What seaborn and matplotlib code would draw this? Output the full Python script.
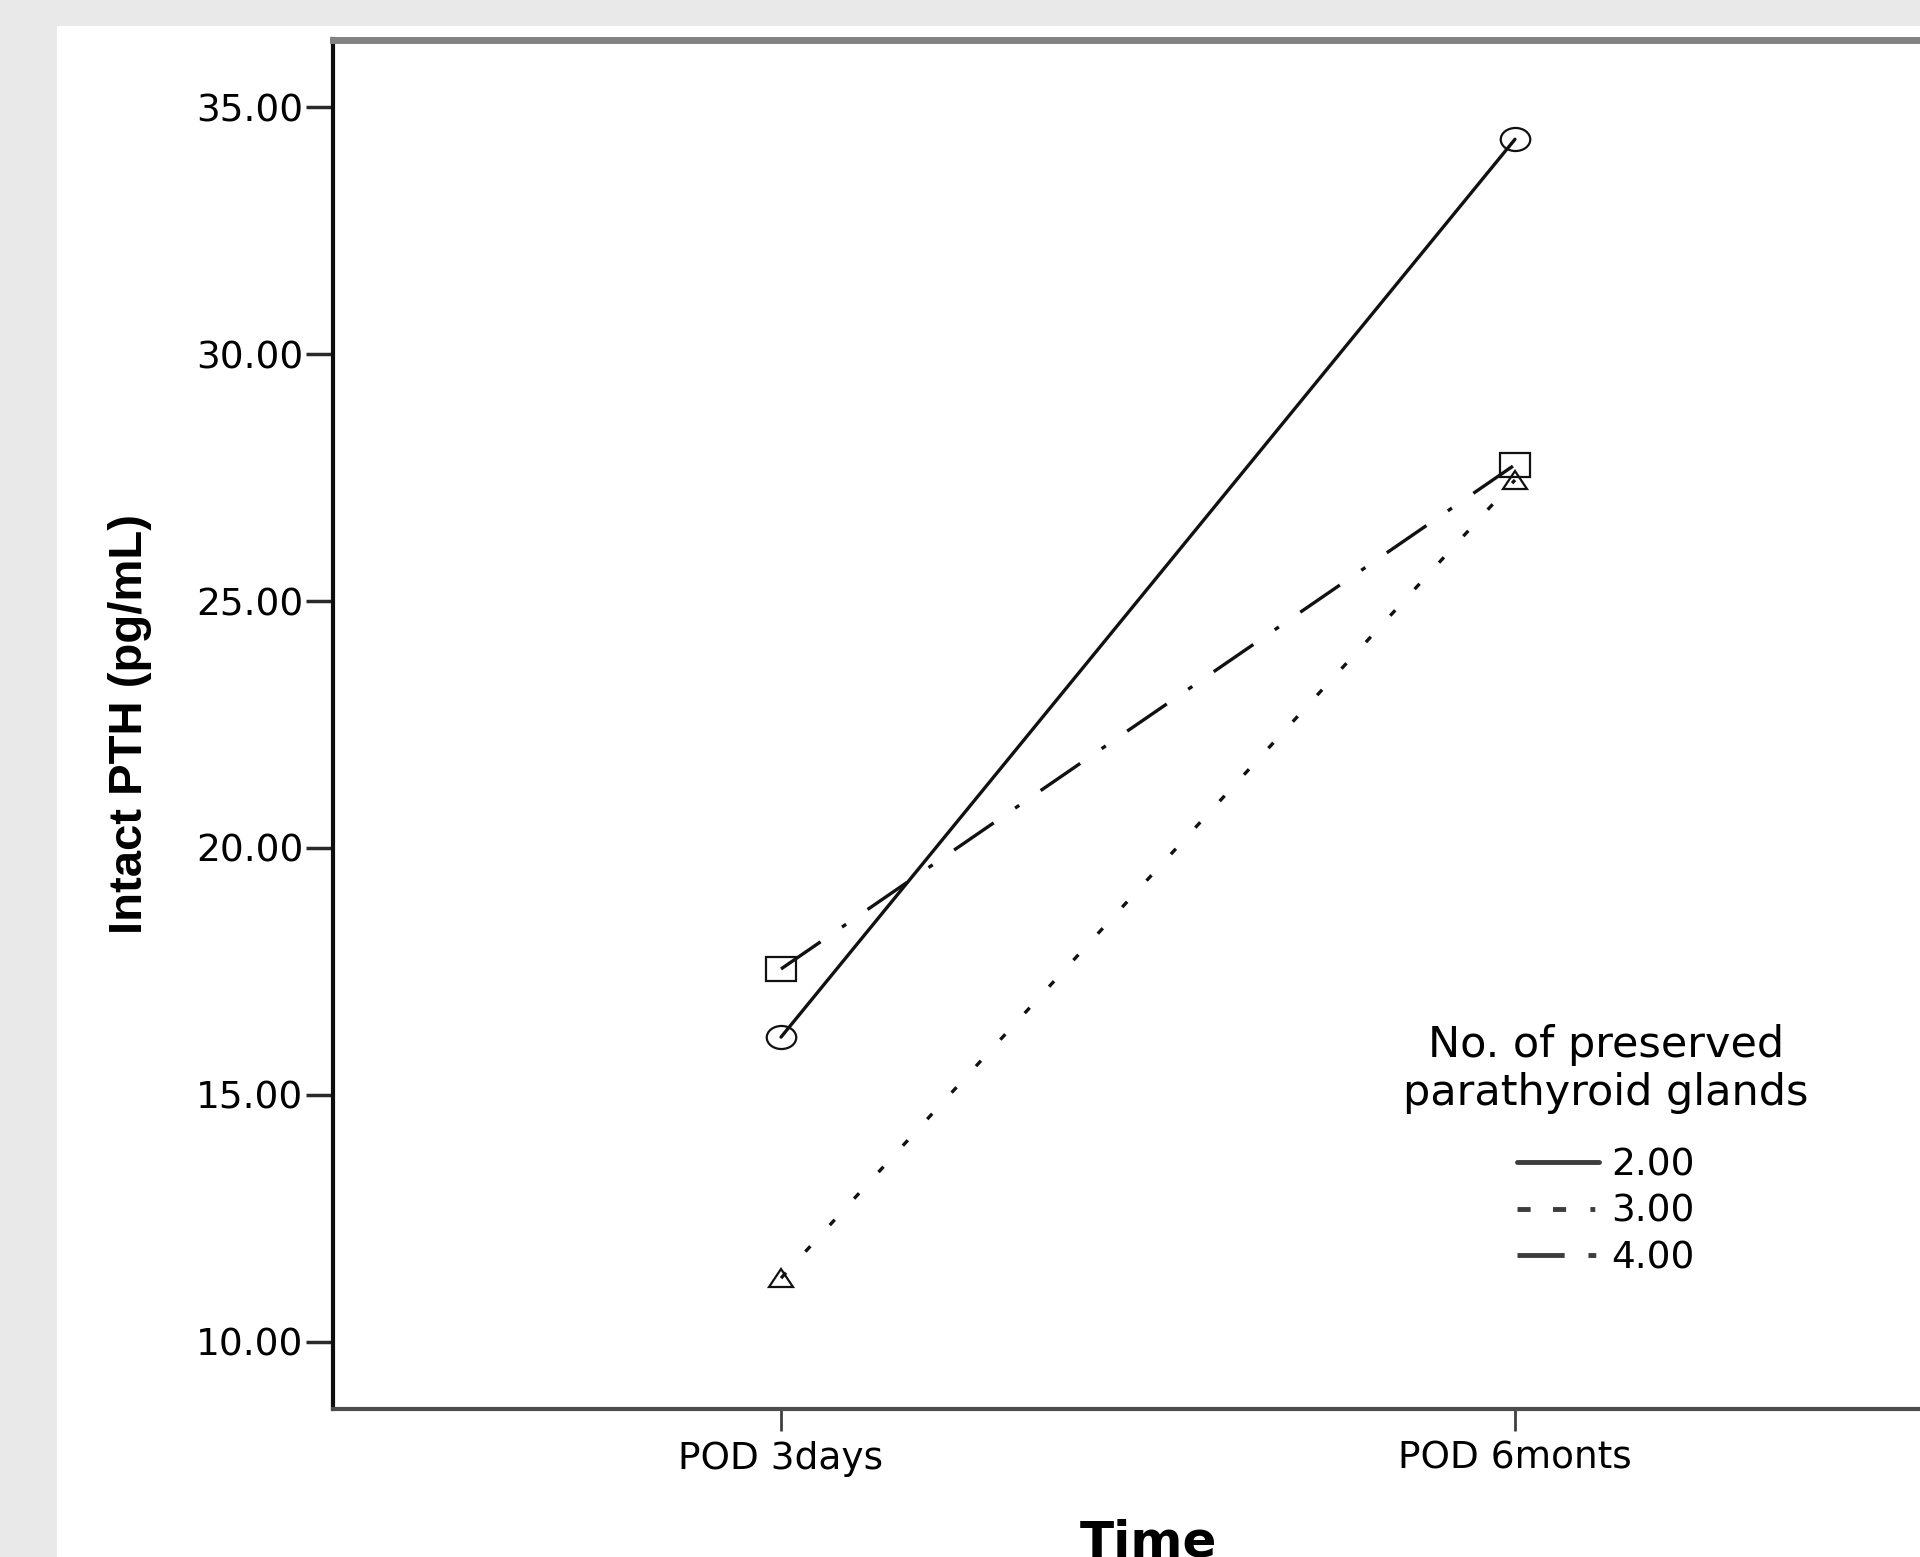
import numpy as np
import pandas as pd
import seaborn as sns
import matplotlib.pyplot as plt
from matplotlib import font_manager
from matplotlib.lines import Line2D
from matplotlib.markers import MarkerStyle
from matplotlib.patches import Rectangle
from matplotlib.ticker import StrMethodFormatter
from matplotlib.transforms import Affine2D

# values
times = ["POD 3days", "POD 6monts"]
glands = ["2.00", "3.00", "4.00"]
pth_2 = [16.17, 34.35]
pth_3 = [11.29, 27.45]
pth_4 = [17.55, 27.76]
yticks = [10, 15, 20, 25, 30, 35]

df = pd.DataFrame({
    "time": times * 3,
    "glands": np.repeat(glands, len(times)),
    "pth": pth_2 + pth_3 + pth_4,
})

sns.set_style("white")
plt.rcParams["font.family"] = ["DejaVu Sans"]
plt.rcParams["text.color"] = "black"
plt.rcParams["axes.labelcolor"] = "black"

W, H = 1920, 1557
fig = plt.figure(figsize=(W / 100, H / 100), dpi=100, facecolor="#e9e9e9")
# white panel of the exported graph, inset from the gray page
fig.add_artist(Rectangle((57 / W, 0), 1, 1 - 26 / H, transform=fig.transFigure,
                         facecolor="white", edgecolor="none", zorder=-1))
# the chart is cut off on the right, so the axes runs past the canvas
ax = fig.add_axes([333 / W, 1 - 1409 / H, 1630 / W, 1369.5 / H])

# the export is stretched sideways, markers come out wider than tall
wide = Affine2D().scale(1.28, 1.0)
markers = {
    "2.00": MarkerStyle("o", transform=wide),
    "3.00": MarkerStyle("^", transform=Affine2D().scale(1.0, 0.78)),
    "4.00": MarkerStyle("s", transform=wide),
}
dashes = {"2.00": "", "3.00": (2.2, 8.6), "4.00": (14.4, 7.8, 1.5, 7.8)}

sns.lineplot(data=df, x="time", y="pth", hue="glands", style="glands",
             palette=["#111111"] * 3, markers=markers, dashes=dashes,
             markersize=16.6, markerfacecolor="none", markeredgecolor="#111111",
             markeredgewidth=1.6, linewidth=2.4, errorbar=None, legend=False, ax=ax)

ax.set_xlim(-0.6104, 1.6104)
ax.set_ylim(8.64, 36.37)
ax.set_yticks(yticks)
ax.yaxis.set_major_formatter(StrMethodFormatter("{x:.2f}"))
ax.tick_params(axis="y", left=True, direction="out", length=19.5, width=2.5,
               color="#2a2a2a", pad=2, labelsize=27, labelcolor="black")
ax.tick_params(axis="x", bottom=True, direction="out", length=16, width=2.0,
               color="#404040", pad=7, labelsize=27, labelcolor="black")

for side, col, lw in [("left", "#0d0d0d", 3.0), ("top", "#828282", 5.0),
                      ("bottom", "#4d4d4d", 3.0)]:
    ax.spines[side].set_visible(True)
    ax.spines[side].set_color(col)
    ax.spines[side].set_linewidth(lw)
ax.spines["right"].set_visible(False)

# condensed bold y title if a narrow face is around
fonts = {f.name for f in font_manager.fontManager.ttflist}
if "Liberation Sans Narrow" in fonts:
    ax.set_ylabel("Intact PTH (pg/mL)", family="Liberation Sans Narrow",
                  fontsize=42, fontweight="bold")
else:
    ax.set_ylabel("Intact PTH (pg/mL)", family="Liberation Sans",
                  fontsize=34, fontweight="bold")
ax.yaxis.set_label_coords(-0.111, 0.5)
ax.set_xlabel("Time", fontsize=36, fontweight="bold")
ax.xaxis.set_label_coords(0.5, -0.0797)

handles = [
    Line2D([], [], color="#3c3c3c", lw=3.5),
    Line2D([], [], color="#3c3c3c", lw=3.5, dashes=(2.7, 4.6, 2.7, 5.0, 1.0, 10)),
    Line2D([], [], color="#3c3c3c", lw=3.5, dashes=(9.7, 4.9, 1.6, 10)),
]
leg = ax.legend(handles, glands, title="No. of preserved\nparathyroid glands",
                loc="center", bbox_to_anchor=(1606 / W, 1 - 1150 / H),
                bbox_transform=fig.transFigure, frameon=False, fontsize=27,
                title_fontsize=31, handlelength=2.19, handletextpad=0.32,
                labelspacing=0.28)
leg.get_title().set_multialignment("center")
leg._legend_box.sep = 24  # extra room under the title, like SPSS

fig.savefig("out.png", dpi=100, facecolor=fig.get_facecolor())
